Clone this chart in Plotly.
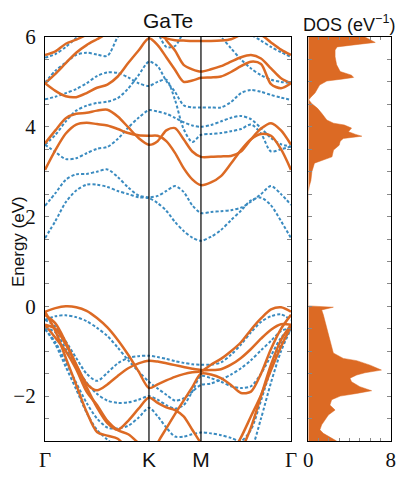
import plotly.graph_objects as go

# -----------------------------
# 1) Daten (aus dem Bild abgelesen)
# -----------------------------
# k-Pfad Γ-K-M-Γ (Einheiten pi/a), Hochsymmetriepunkte
K_PT = 1.3333
M_PT = 2.0
G_END = 3.1547
K_PATH = [0.0, 0.1333, 0.2667, 0.4, 0.5333, 0.6667, 0.8, 0.9333, 1.0667, 1.2, 1.3333,
          1.4444, 1.5556, 1.6667, 1.7778, 1.8889, 2.0,
          2.1283, 2.2566, 2.3849, 2.5132, 2.6415, 2.7698, 2.8981, 3.0264, 3.1547]
K_TICKS = [0.0, K_PT, M_PT, G_END]
K_LABELS = ["Γ", "K", "M", "Γ"]

# orange (durchgezogen) – Leitungsbänder
orange_c1 = [3.04, 3.48, 3.85, 4.05, 4.09, 4.06, 4.03, 3.95, 3.86, 3.81, 3.80, 3.80, 3.68, 3.42, 3.08, 2.83, 2.70, 2.76, 2.90, 3.18, 3.48, 3.72, 3.84, 3.80, 3.50, 3.04]
orange_c2 = [3.63, 3.92, 4.19, 4.29, 4.31, 4.36, 4.38, 4.23, 3.99, 3.75, 3.60, 3.68, 3.92, 3.97, 3.72, 3.45, 3.33, 3.33, 3.34, 3.35, 3.45, 3.72, 3.96, 4.08, 3.92, 3.60]
orange_c3 = [4.97, 4.80, 4.68, 4.66, 4.75, 4.87, 4.94, 5.12, 5.42, 5.70, 5.97, 5.82, 5.55, 5.27, 5.00, 5.03, 5.09, 5.10, 5.12, 5.22, 5.35, 5.45, 5.40, 4.95, 4.86, 4.97]
orange_c4 = [4.97, 5.18, 5.42, 5.65, 5.82, 5.95, 6.08, 6.20, 6.30, 6.35, 6.35, 6.30, 5.93, 5.70, 5.38, 5.28, 5.23, 5.28, 5.35, 5.45, 5.55, 5.60, 5.52, 5.30, 5.08, 4.97]
orange_c5 = [5.60, 5.68, 5.85, 5.94, 6.05, 6.15, 6.25, 6.30, 6.30, 6.25, 6.15, 6.05, 5.97, 5.93, 5.92, 5.91, 5.91, 5.91, 5.92, 5.95, 6.05, 6.12, 6.05, 5.88, 5.72, 5.60]
# orange – Valenzbänder
orange_v1 = [-0.12, -0.04, 0.0, -0.02, -0.10, -0.26, -0.47, -0.75, -1.08, -1.45, -1.82, -1.74, -1.65, -1.57, -1.51, -1.47, -1.45, -1.30, -1.17, -1.00, -0.80, -0.52, -0.27, -0.07, -0.02, -0.12]
orange_v2 = [-0.41, -0.50, -0.85, -1.30, -1.72, -1.87, -1.74, -1.55, -1.38, -1.27, -1.21, -1.23, -1.27, -1.31, -1.35, -1.39, -1.42, -1.42, -1.40, -1.30, -1.15, -0.95, -0.72, -0.52, -0.40, -0.41]
orange_v3 = [-0.19, -0.38, -0.80, -1.30, -1.80, -2.25, -2.60, -2.75, -2.55, -2.28, -2.03, -2.15, -2.25, -2.31, -2.45, -2.75, -3.05, -3.35, -3.45, -3.30, -2.92, -2.45, -1.98, -1.42, -0.90, -0.45]
orange_v4 = [-0.12, -0.55, -1.15, -1.75, -2.35, -2.80, -2.88, -2.95, -3.20, -3.50, -3.70, -3.05, -2.72, -2.40, -2.10, -1.80, -1.50, -1.52, -1.60, -1.75, -1.93, -1.90, -1.50, -0.95, -0.50, -0.19]
orange_v5 = [-0.41, -0.70, -1.00, -1.40, -1.90, -2.20, -2.55, -2.76, -2.85, -3.05, -3.30, -3.50, -3.70, -3.80, -3.85, -3.85, -3.85, -3.80, -3.70, -3.50, -3.20, -2.70, -2.00, -1.30, -0.75, -0.41]

# blau (gepunktet) – Leitungsbänder
blue_c1 = [1.52, 1.90, 2.32, 2.58, 2.71, 2.71, 2.66, 2.57, 2.50, 2.43, 2.41, 2.30, 2.13, 1.88, 1.68, 1.53, 1.46, 1.55, 1.70, 1.92, 2.13, 2.36, 2.42, 2.25, 1.90, 1.52]
blue_c2 = [2.24, 2.52, 2.82, 2.94, 2.95, 3.00, 3.05, 2.88, 2.65, 2.47, 2.43, 2.46, 2.57, 2.68, 2.55, 2.25, 2.08, 2.10, 2.12, 2.14, 2.20, 2.33, 2.50, 2.68, 2.50, 2.26]
blue_c3 = [3.60, 3.44, 3.28, 3.30, 3.41, 3.51, 3.55, 3.73, 3.98, 4.20, 4.37, 4.34, 4.29, 4.20, 4.10, 4.03, 4.00, 4.04, 4.12, 4.20, 4.24, 4.17, 3.97, 3.75, 3.61, 3.56]
blue_c4 = [4.61, 4.67, 4.75, 4.84, 4.97, 5.13, 5.21, 5.20, 5.10, 4.97, 4.91, 5.00, 5.05, 4.60, 3.95, 3.66, 3.82, 3.84, 3.86, 3.90, 3.95, 4.05, 3.85, 3.45, 3.50, 3.56]
blue_c5 = [3.60, 3.82, 4.12, 4.36, 4.47, 4.53, 4.56, 4.64, 4.85, 5.15, 5.45, 5.35, 5.02, 4.78, 4.48, 4.43, 4.43, 4.43, 4.43, 4.55, 4.75, 4.82, 4.78, 4.71, 4.65, 4.60]
blue_c6 = [4.98, 5.25, 5.43, 5.60, 5.65, 5.61, 5.58, 6.00, 6.30, 6.40, 6.40, 6.10, 5.78, 5.80, 6.10, 6.30, 6.30, 6.20, 6.00, 5.75, 5.50, 5.30, 5.15, 5.05, 5.00, 4.98]
blue_c7 = [5.54, 5.62, 5.78, 5.98, 6.20, 6.35, 6.45, 6.50, 6.50, 6.50, 6.50, 6.50, 6.50, 6.50, 6.50, 6.50, 6.50, 6.45, 6.35, 6.25, 6.15, 6.05, 5.92, 5.78, 5.66, 5.56]
# blau – Valenzbänder
blue_v1 = [-0.30, -0.45, -0.78, -1.15, -1.50, -1.66, -1.48, -1.27, -1.15, -1.11, -1.10, -1.13, -1.17, -1.22, -1.26, -1.29, -1.30, -1.30, -1.25, -1.08, -0.85, -0.58, -0.35, -0.22, -0.18, -0.30]
blue_v2 = [-0.30, -0.22, -0.20, -0.24, -0.33, -0.48, -0.66, -0.92, -1.20, -1.45, -1.68, -1.83, -1.97, -2.10, -2.05, -1.90, -1.75, -1.72, -1.63, -1.52, -1.38, -1.20, -0.98, -0.77, -0.55, -0.48]
blue_v3 = [-0.48, -0.58, -0.95, -1.35, -1.70, -1.95, -2.10, -2.15, -2.14, -2.08, -2.00, -2.08, -2.20, -2.28, -2.20, -1.90, -1.55, -1.60, -1.68, -1.78, -1.82, -1.78, -1.50, -1.10, -0.70, -0.48]
blue_v4 = [-0.51, -0.80, -1.25, -1.70, -2.15, -2.50, -2.70, -2.72, -2.66, -2.48, -2.26, -2.45, -2.70, -2.90, -2.90, -2.85, -2.81, -2.83, -2.87, -2.93, -3.00, -2.75, -2.10, -1.40, -0.85, -0.51]
blue_v5 = [-0.50, -0.85, -1.35, -1.85, -2.37, -2.75, -2.97, -3.15, -3.30, -3.45, -3.50, -3.40, -3.30, -3.25, -3.20, -3.20, -3.20, -3.25, -3.30, -3.40, -3.45, -3.20, -2.50, -1.70, -1.00, -0.50]

orange_bands = [orange_c1, orange_c2, orange_c3, orange_c4, orange_c5,
                orange_v1, orange_v2, orange_v3, orange_v4, orange_v5]
blue_bands = [blue_c1, blue_c2, blue_c3, blue_c4, blue_c5, blue_c6, blue_c7,
              blue_v1, blue_v2, blue_v3, blue_v4, blue_v5]

# Zustandsdichte (eV^-1) über Energie
dos_energy = [6.0, 5.93, 5.88, 5.84, 5.78, 5.71, 5.56, 5.38, 5.23, 5.15, 5.10, 5.06, 5.02, 4.93, 4.86, 4.75, 4.66, 4.60,
              4.52, 4.41, 4.30, 4.15, 4.08, 4.04, 3.97, 3.89, 3.83, 3.79, 3.74, 3.68, 3.59, 3.48, 3.33, 3.26, 3.19, 3.00,
              2.80, 2.68, 2.55, 0.05, 0.01, -0.02, -0.08, -0.19, -0.45, -0.75, -1.04, -1.16, -1.21, -1.31, -1.42, -1.48,
              -1.53, -1.60, -1.68, -1.79, -1.88, -1.94, -2.00, -2.08, -2.20, -2.31, -2.42, -2.64, -2.75, -2.83, -2.90, -3.00]
dos_values = [5.5, 6.1, 6.5, 5.0, 2.8, 2.6, 2.6, 2.75, 3.1, 4.2, 4.4, 3.2, 1.8, 1.1, 0.95, 0.65, 0.25, 0.05,
              0.32, 0.9, 1.3, 1.8, 2.45, 3.5, 4.2, 3.9, 4.6, 5.2, 3.4, 3.1, 3.0, 2.45, 2.3, 1.5, 0.6, 0.35,
              0.25, 0.1, 0.0, 0.0, 0.0, 2.43, 1.3, 1.46, 1.78, 2.1, 2.43, 3.4, 4.7, 6.0, 7.1, 5.5,
              4.7, 4.05, 4.2, 5.0, 6.15, 4.7, 3.1, 2.27, 2.1, 2.6, 1.95, 1.3, 1.13, 1.46, 1.95, 2.75]

E_TICKS = [-2, 0, 2, 4, 6]
E_LABELS = ["−2", "0", "2", "4", "6"]
DOS_TICKS = [0, 8]
DOS_LABELS = ["0", "8"]

# -----------------------------
# 2) Figur
# -----------------------------
ORANGE = "#dc6a24"
BLUE = "#3a8bc0"
SERIF = "Liberation Serif"
SANS = "Liberation Sans"

W, H = 411, 480
OFF = 8  # Seitenrand des Browsers (body margin) ausgleichen


def px_x(p):
    return (p - OFF) / W


def px_y(p):
    return 1 - (p - OFF) / H


fig = go.Figure()

for band in blue_bands:
    fig.add_trace(go.Scatter(x=K_PATH, y=band, mode="lines", xaxis="x", yaxis="y",
                             line=dict(color=BLUE, width=2, dash="3px,2px", shape="spline", smoothing=0.8),
                             showlegend=False, hoverinfo="skip"))

for band in orange_bands:
    fig.add_trace(go.Scatter(x=K_PATH, y=band, mode="lines", xaxis="x", yaxis="y",
                             line=dict(color=ORANGE, width=2.5, shape="spline", smoothing=0.8),
                             showlegend=False, hoverinfo="skip"))

# DOS-Fläche
fig.add_trace(go.Scatter(x=dos_values, y=dos_energy, mode="lines", fill="tozerox",
                         fillcolor=ORANGE, line=dict(color=ORANGE, width=0.5),
                         xaxis="x2", yaxis="y2", showlegend=False, hoverinfo="skip"))

# senkrechte Linien bei K und M
for xk in [K_PT, M_PT]:
    fig.add_shape(type="line", xref="x", yref="y", x0=xk, x1=xk, y0=-3, y1=6,
                  line=dict(color="black", width=1.2), layer="above")

x_labels = [lab if lab == "Γ" else f'<span style="font-family:{SANS}">{lab}</span>' for lab in K_LABELS]

y_dom = [px_y(441), px_y(37)]
axis_common = dict(showline=True, linecolor="black", linewidth=1.3,
                   showgrid=False, zeroline=False, automargin=False)

fig.update_layout(
    width=W, height=H,
    margin=dict(l=0, r=0, t=0, b=0, pad=0, autoexpand=False),
    paper_bgcolor="white", plot_bgcolor="white",
    xaxis=dict(domain=[px_x(45), px_x(291)], range=[0, G_END], anchor="y",
               tickvals=K_TICKS, ticktext=x_labels, ticks="", mirror=True,
               tickfont=dict(family=SERIF, size=21, color="#111"), **axis_common),
    yaxis=dict(domain=y_dom, range=[-3, 6], anchor="x",
               tickvals=E_TICKS, ticktext=E_LABELS,
               ticks="inside", ticklen=4, tickcolor="#888", tickwidth=1,
               minor=dict(dtick=0.5, tick0=0, ticks="inside", ticklen=4, tickcolor="#888"),
               tickfont=dict(family=SERIF, size=21, color="#111"),
               ticklabelstandoff=4, mirror="ticks", **axis_common),
    xaxis2=dict(domain=[px_x(308.3), px_x(390.7)], range=[0, 8], anchor="y2",
                tickvals=DOS_TICKS, ticktext=DOS_LABELS,
                ticks="inside", ticklen=4, tickcolor="#888",
                minor=dict(dtick=1, ticks="inside", ticklen=3, tickcolor="#888"),
                tickfont=dict(family=SERIF, size=21, color="#111"),
                mirror="ticks", **axis_common),
    yaxis2=dict(domain=y_dom, range=[-3, 6], anchor="x2",
                dtick=0.5, showticklabels=False,
                ticks="inside", ticklen=4, tickcolor="#888",
                mirror="ticks", **axis_common),
    annotations=[
        dict(text="GaTe", x=px_x(168), y=px_y(20), xref="paper", yref="paper",
             xanchor="center", yanchor="middle",
             showarrow=False, font=dict(family=SANS, size=21, color="#111")),
        dict(text="DOS (eV<sup>−1</sup>)", x=px_x(349), y=px_y(24), xref="paper", yref="paper",
             xanchor="center", yanchor="middle",
             showarrow=False, font=dict(family=SANS, size=18, color="#111")),
        dict(text="Energy (eV)", x=px_x(18), y=px_y(242), xref="paper", yref="paper",
             xanchor="center", yanchor="middle",
             textangle=-90, showarrow=False, font=dict(family=SANS, size=17, color="#111")),
    ],
)

fig.write_html("out.html")
